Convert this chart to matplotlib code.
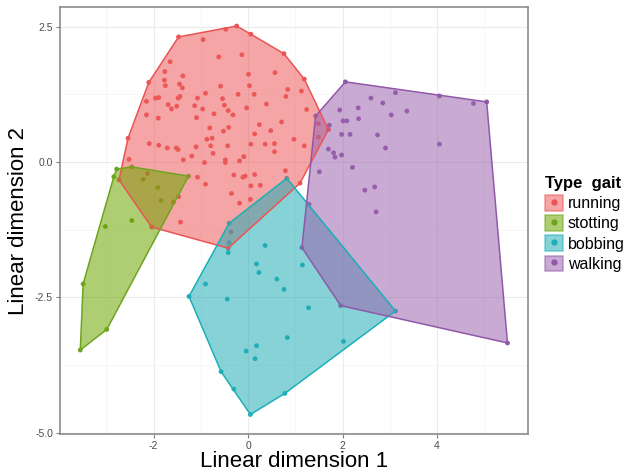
import numpy as np
import matplotlib.pyplot as plt
from matplotlib.patches import Patch
from matplotlib.lines import Line2D

# LDA scores per gait type
running_x = [-1.47, -0.95, -0.47, -0.24, 0.06, -0.62, -0.13, 0.76, -1.65, -1.76,
             -1.38, -1.77, -1.75, -1.45, -1.39, -2.10, 0.01, 0.57, 1.19, -0.58,
             0.03, 0.84, 1.13, -1.96, -1.89, -2.15, -1.48, -1.44, -0.90, -1.07,
             -0.54, -0.21, 0.13, 0.80, -1.69, -1.62, -1.51, -1.13, -0.96, -0.50,
             -0.42, -0.32, -0.72, -0.03, 0.39, 1.24, -2.15, -1.90, -1.09, 0.71,
             0.24, -0.81, -0.41, -0.52, 0.14, 0.48, -0.87, -0.76, 0.97, -2.54,
             -2.09, -1.89, -1.71, -1.52, -1.48, -1.10, -0.79, -0.43, 0.06, 0.36,
             0.56, 1.19, -0.74, 0.56, -1.19, -1.37, -2.52, -0.92, -0.48, -0.48,
             -0.18, -0.09, -2.13, -1.07, -0.30, -0.11, -0.06, 0.14, 0.79, 1.10,
             -0.90, 0.06, 0.26, -0.35, -0.18, 0.05, -1.58, -2.73, -1.47, -1.43,
             -2.04, -0.42, -0.36, 1.70, 1.49, 1.49]
running_y = [2.31, 2.26, 2.45, 2.51, 2.36, 1.94, 1.98, 2.00, 1.85, 1.67,
             1.59, 1.51, 1.41, 1.44, 1.37, 1.47, 1.62, 1.65, 1.53, 1.40,
             1.41, 1.34, 1.31, 1.18, 1.19, 1.12, 1.18, 1.21, 1.27, 1.18,
             1.17, 1.25, 1.25, 1.21, 1.06, 0.98, 1.03, 1.04, 0.98, 1.05,
             0.95, 0.87, 0.89, 1.00, 1.07, 0.97, 0.87, 0.81, 0.82, 0.74,
             0.69, 0.63, 0.64, 0.57, 0.52, 0.58, 0.42, 0.44, 0.42, 0.44,
             0.34, 0.31, 0.26, 0.26, 0.23, 0.28, 0.30, 0.30, 0.33, 0.33,
             0.34, 0.30, 0.16, 0.19, 0.11, 0.04, 0.05, -0.01, 0.04, -0.01,
             0.02, 0.10, -0.21, -0.28, -0.24, -0.28, -0.26, -0.23, -0.16, -0.39,
             -0.41, -0.44, -0.43, -0.58, -0.76, -0.69, -0.74, -0.33, -0.64, -1.11,
             -1.20, -1.59, -1.29, 0.60, 0.71, 0.46]

stotting_x = [-2.78, -2.46, -2.84, -2.22, -1.91, -1.84, -1.26, -2.46, -3.02, -3.49,
              -2.99, -3.55]
stotting_y = [-0.13, -0.09, -0.27, -0.32, -0.47, -0.71, -0.26, -1.08, -1.19, -2.25,
              -3.09, -3.47]

bobbing_x = [0.82, -0.40, -0.40, -0.42, 0.36, 0.18, 0.23, 0.61, 0.76, 1.15,
             -0.90, -1.25, -0.44, 1.28, 3.12, 0.83, 2.02, -0.04, 0.18, 0.15,
             -0.57, -0.30, 0.78, 0.05]
bobbing_y = [-0.30, -1.13, -1.49, -1.67, -1.54, -1.88, -2.04, -2.16, -2.35, -1.90,
             -2.25, -2.48, -2.53, -2.69, -2.75, -3.24, -3.31, -3.49, -3.39, -3.63,
             -3.87, -4.19, -4.27, -4.66]

walking_x = [2.06, 3.12, 4.05, 4.77, 5.05, 2.60, 2.85, 1.94, 2.33, 3.36,
             3.03, 2.01, 2.09, 2.34, 1.72, 1.98, 2.16, 2.74, 4.05, 1.70,
             1.81, 1.84, 1.98, 2.91, 2.21, 1.51, 2.47, 2.68, 2.71, 1.29,
             1.43, 5.49, 1.96, 1.14]
walking_y = [1.48, 1.28, 1.22, 1.08, 1.11, 1.18, 1.09, 0.96, 1.00, 0.94,
             0.87, 0.76, 0.76, 0.80, 0.68, 0.51, 0.51, 0.50, 0.33, 0.24,
             0.17, 0.09, 0.13, 0.26, -0.10, -0.18, -0.52, -0.46, -0.92, -0.78,
             0.85, -3.34, -2.65, -1.58]

gaits = ['running', 'stotting', 'bobbing', 'walking']
colors = ['#EB5454', '#6EA520', '#1AB0B8', '#9158AA']
fills = ['#ED5B5B', '#6EA500', '#25ADB6', '#9B64AD']


def hull(x, y):
    pts = sorted(set(zip(x, y)))

    def cross(o, a, b):
        return (a[0] - o[0]) * (b[1] - o[1]) - (a[1] - o[1]) * (b[0] - o[0])

    lower, upper = [], []
    for p in pts:
        while len(lower) >= 2 and cross(lower[-2], lower[-1], p) <= 0:
            lower.pop()
        lower.append(p)
    for p in reversed(pts):
        while len(upper) >= 2 and cross(upper[-2], upper[-1], p) <= 0:
            upper.pop()
        upper.append(p)
    return np.array(lower[:-1] + upper[:-1])


data = [(running_x, running_y), (stotting_x, stotting_y),
        (bobbing_x, bobbing_y), (walking_x, walking_y)]

plt.rcParams['font.family'] = ['Liberation Sans', 'DejaVu Sans']
plt.rcParams['axes.unicode_minus'] = False
fig = plt.figure(figsize=(6.38, 4.72), dpi=100)
ax = fig.add_axes([0.094, 0.0805, 0.734, 0.9045])

# points first, hulls drawn on top (as in the original)
for (x, y), c in zip(data, colors):
    ax.scatter(x, y, s=12, color=c, edgecolors='none', zorder=2)
for (x, y), c, f in zip(data, colors, fills):
    h = hull(x, y)
    ax.fill(h[:, 0], h[:, 1], facecolor=f, alpha=0.55, edgecolor='none', zorder=3)
    ax.fill(h[:, 0], h[:, 1], facecolor='none', edgecolor=c, lw=1.1, zorder=4)

ax.set_xlim(-3.98, 5.93)
ax.set_ylim(-5.02, 2.86)
ax.set_xticks([-2, 0, 2, 4])
ax.set_yticks([-5.0, -2.5, 0.0, 2.5])
ax.set_yticklabels(['-5.0', '-2.5', '0.0', '2.5'])
ax.set_xticks([-3, -1, 1, 3, 5], minor=True)
ax.set_yticks([-3.75, -1.25, 1.25], minor=True)
ax.grid(True, which='major', color='#EBEBEB', lw=0.8, zorder=0)
ax.grid(True, which='minor', color='#F5F5F5', lw=0.6, zorder=0)
ax.set_axisbelow(True)
ax.tick_params(which='major', length=3, color='#7F7F7F', labelsize=7.5,
               labelcolor='#4D4D4D', pad=2)
ax.tick_params(which='minor', length=0)
for s in ax.spines.values():
    s.set_color('#8C8C8C')
    s.set_linewidth(1.2)

ax.set_xlabel('Linear dimension 1', fontsize=16, labelpad=0)
ax.set_ylabel('Linear dimension 2', fontsize=16, labelpad=4)

handles = [(Patch(facecolor=f, alpha=0.55, edgecolor=c, lw=1.1),
            Line2D([], [], marker='o', ls='none', color=c, markersize=3.5))
           for c, f in zip(colors, fills)]
leg = fig.legend(handles, gaits, title='Type  gait', loc='upper left',
                 bbox_to_anchor=(0.845, 0.64), frameon=False, fontsize=11.5,
                 title_fontproperties={'weight': 'bold', 'size': 12},
                 handlelength=1.1, handleheight=1.1, handletextpad=0.3,
                 labelspacing=0.25, borderaxespad=0)
leg._legend_box.align = 'left'

fig.savefig('out.png', dpi=100)
